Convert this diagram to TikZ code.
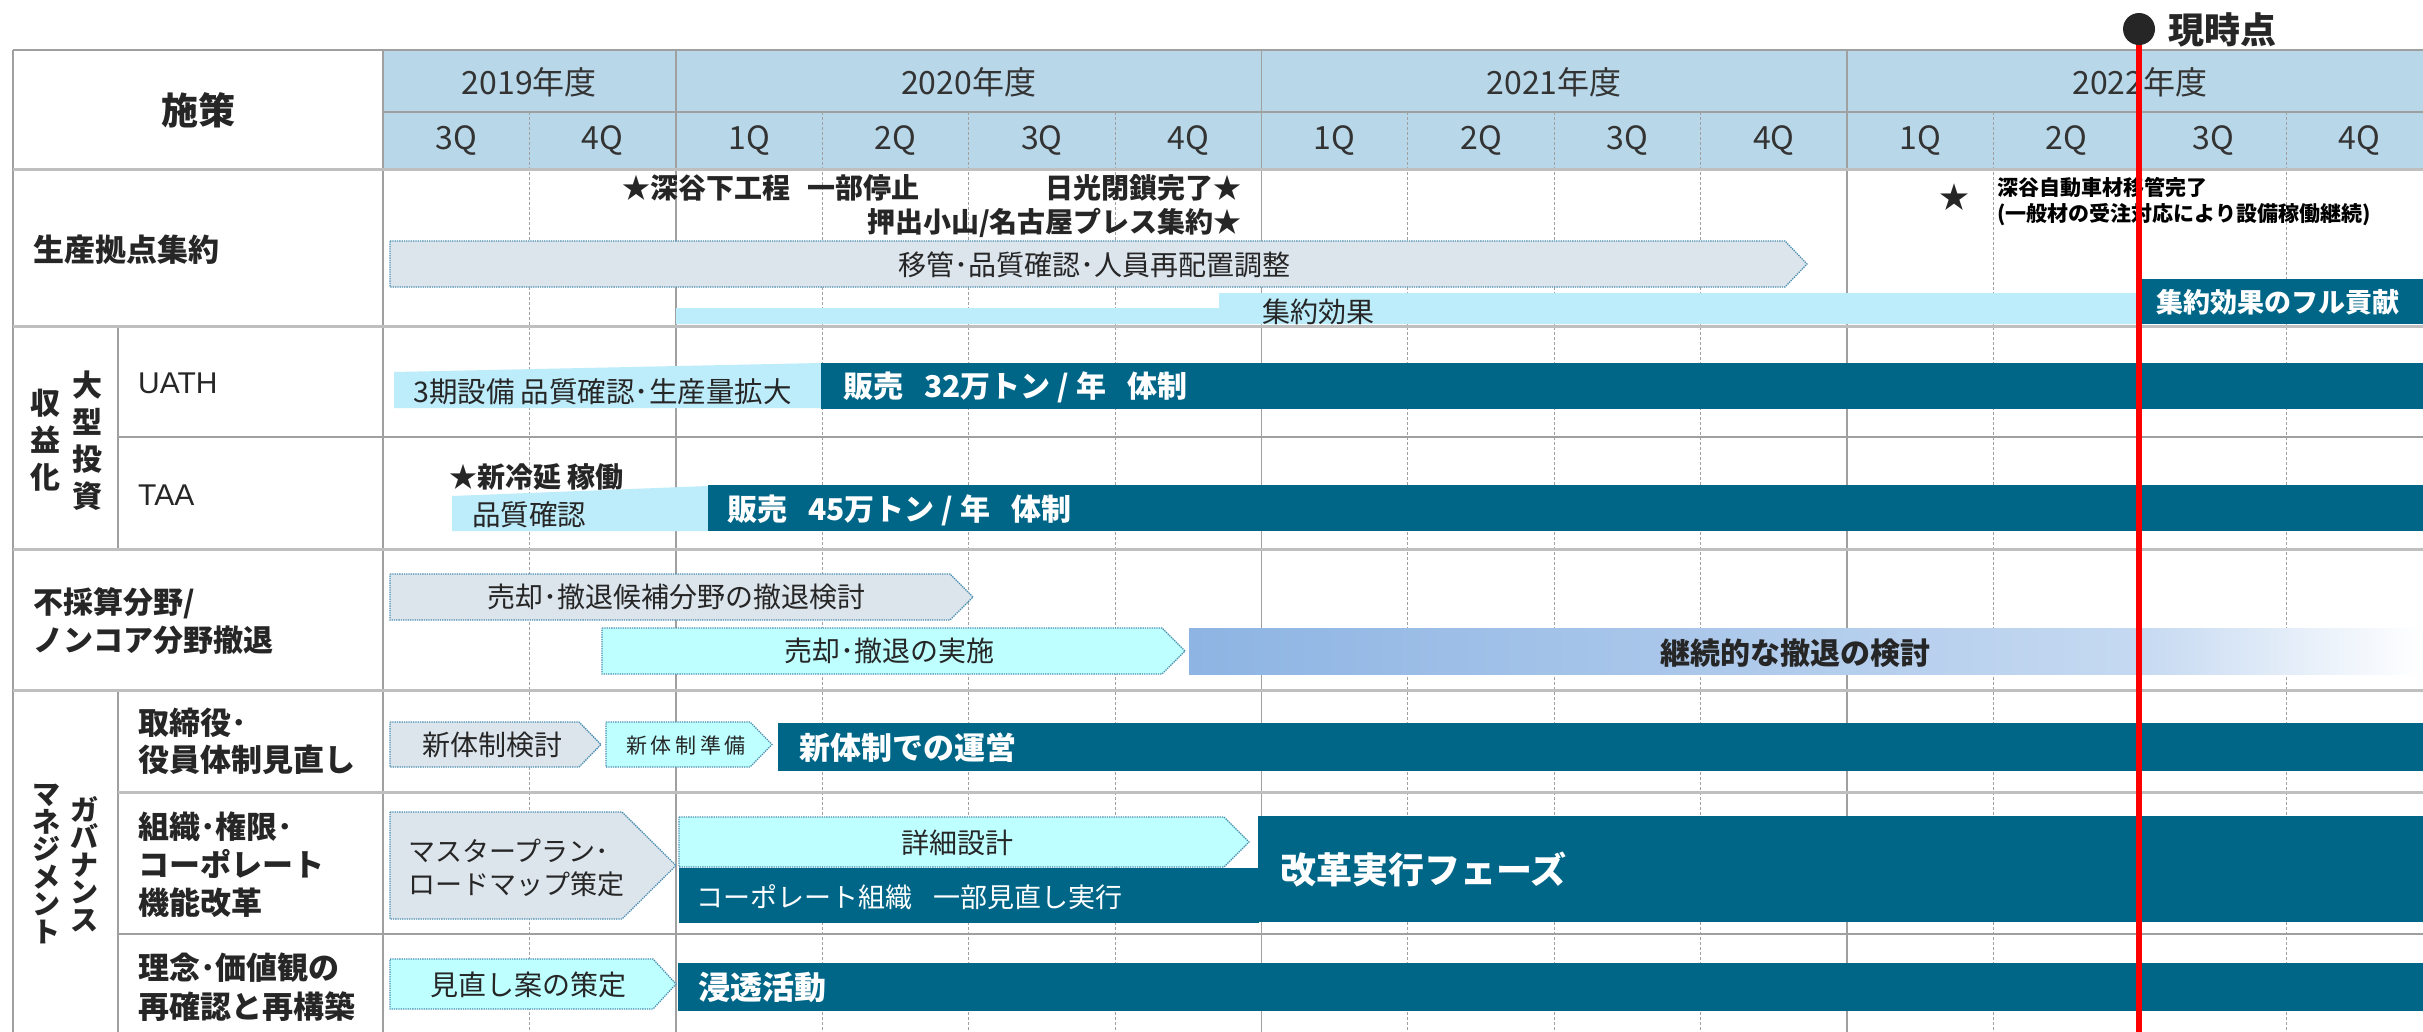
\documentclass[tikz,border=0pt]{standalone}
\usepackage{fontspec}
\setmainfont{Noto Sans CJK JP}
\newfontfamily\latinf{Liberation Sans}
\usetikzlibrary{calc}
\definecolor{hdr}{RGB}{184,215,232}
\definecolor{barteal}{RGB}{0,102,136}
\definecolor{lcyan}{RGB}{189,236,251}
\definecolor{acyan}{RGB}{190,255,255}
\definecolor{agray}{RGB}{220,228,236}
\definecolor{abord}{RGB}{70,140,175}
\definecolor{gline}{RGB}{160,160,160}
\definecolor{gthick}{RGB}{191,191,191}
\definecolor{txt}{RGB}{38,38,38}
\definecolor{hdtxt}{RGB}{51,51,51}
\definecolor{gradA}{RGB}{141,180,227}
\definecolor{gradB}{RGB}{197,217,241}
\newcommand\fsz[2]{\fontsize{#1}{#2}\selectfont}
\newcommand\myarrow[6]{\path[#1] (#2,#5) -- (#3,#5) -- (#4,{(#5+#6)/2}) -- (#3,#6) -- (#2,#6) -- cycle;}
\tikzset{
  lbl/.style={inner sep=0pt, text=txt, font=\fsz{30}{37}\bfseries, align=left},
  hd/.style={inner sep=0pt, text=hdtxt, font=\fsz{32}{38}},
  intxt/.style={inner sep=0pt, text=txt, font=\fsz{28}{34}, align=left},
  btxt/.style={inner sep=0pt, text=txt, font=\fsz{28}{34}\bfseries},
  wb/.style={inner sep=0pt, text=white, font=\fsz{30}{36}\bfseries},
  grayarr/.style={fill=agray, draw=abord, densely dotted, line width=1.3pt},
  cyanarr/.style={fill=acyan, draw=abord, densely dotted, line width=1.3pt},
  darkbar/.style={fill=barteal},
  lbar/.style={fill=lcyan},
  thinline/.style={draw=gline, line width=1.5pt},
  thickline/.style={draw=gthick, line width=3pt},
  qline/.style={draw=gline, line width=1pt, dash pattern=on 3pt off 2pt},
  redline/.style={draw=red, line width=6pt}
}
\begin{document}
\begin{tikzpicture}[x=1pt,y=-1pt]
\useasboundingbox (0,0) rectangle (2423,1031);
\clip (0,0) rectangle (2423,1031);
\fill[white] (0,0) rectangle (2423,1031);
% ---------- grid ----------
\fill[hdr] (383,50) rectangle (2440,169);
\draw[thinline] (13,50) -- (13,1040);
\draw[thinline] (383,50) -- (383,1040);
\foreach \k in {2,6,10} \draw[thinline] ({383+146.4*\k},50) -- ({383+146.4*\k},1040);
\foreach \k in {1,3,4,5,7,8,9,11,12,13} \draw[qline] ({383+146.4*\k},112) -- ({383+146.4*\k},1040);
\draw[thinline] (118,326) -- (118,549);
\draw[thinline] (118,690) -- (118,1040);
\draw[thinline] (13,50) -- (2440,50);
\draw[thinline] (383,112) -- (2440,112);
\foreach \y in {169,326,549,690} \draw[thickline] (13,\y) -- (2440,\y);
\draw[thickline] (118,792) -- (2440,792);
\draw[thinline] (118,437) -- (2440,437);
\draw[thinline] (118,934) -- (2440,934);
% ---------- header ----------
\node[inner sep=0pt, text=txt, font=\fsz{37}{44}\bfseries] (shisaku) at (198,110) {施策};
\node[hd] (y19) at (529.4,82) {2019年度};
\node[hd] (y20) at (968.6,82) {2020年度};
\node[hd] (y21) at (1554.2,82) {2021年度};
\node[hd] (y22) at (2139.8,82) {2022年度};
\foreach \lab [count=\i from 0] in {3Q,4Q,1Q,2Q,3Q,4Q,1Q,2Q,3Q,4Q,1Q,2Q,3Q,4Q}
  \node[hd] (q\i) at ({383+146.4*(\i+0.5)},141) {\lab};
% ---------- row 1 ----------
\node[lbl, anchor=west, font=\fsz{31}{37}\bfseries] (r1) at (33,250) {生産拠点集約};
\node[btxt, anchor=west] (fukaya) at (622,188) {★深谷下工程\hspace{0.6em}一部停止};
\node[btxt, anchor=east] (nikko) at (1242,188) {日光閉鎖完了★};
\node[btxt, anchor=east] (oshide) at (1242,223) {押出小山/名古屋プレス集約★};
\myarrow{grayarr}{390}{1785}{1807}{241}{287}
\node[intxt] (iken) at (1094,265) {移管･品質確認･人員再配置調整};
\path[lbar] (676,308) -- (1219,308) -- (1219,293) -- (2139,293) -- (2139,324) -- (676,324) -- cycle;
\node[intxt] (shuyaku) at (1318,312) {集約効果};
\fill[barteal] (2142,279) rectangle (2440,324);
\node[wb, anchor=west, font=\fsz{27}{33}\bfseries] (full) at (2156,302) {集約効果のフル貢献};
\node[inner sep=0pt, text=txt, font=\fsz{30}{36}] (star2) at (1954,197) {★};
\node[inner sep=0pt, text=black, font=\fsz{21}{26}\bfseries, anchor=west, align=left] (fukaya2) at (1997,202) {深谷自動車材移管完了\\(一般材の受注対応により設備稼働継続)};
% ---------- row 2 ----------
\node[lbl, font=\fsz{30}{37}\bfseries, align=center] (shueki) at (45,440) {収\\益\\化};
\node[lbl, font=\fsz{30}{37}\bfseries, align=center] (ogata) at (87,441) {大\\型\\投\\資};
\node[inner sep=0pt, text=txt, font=\latinf\fsz{30}{36}, anchor=west] (uath) at (138,383) {UATH};
\node[inner sep=0pt, text=txt, font=\latinf\fsz{30}{36}, anchor=west] (taa) at (138,495) {TAA};
\path[lbar] (394,372) -- (821,363) -- (821,408) -- (394,408) -- cycle;
\fill[barteal] (821,363) rectangle (2440,409);
\node[intxt, anchor=west, font=\fsz{28.5}{34}] (uathq) at (413,392) {3期設備 品質確認･生産量拡大};
\node[wb, anchor=west] (uaths) at (843,387) {販売\hspace{0.7em}32万トン / 年\hspace{0.7em}体制};
\node[btxt, anchor=west] (reien) at (449,477) {★新冷延 稼働};
\path[lbar] (452,496) -- (708,486) -- (708,531) -- (452,531) -- cycle;
\fill[barteal] (708,485) rectangle (2440,531);
\node[intxt, anchor=west, font=\fsz{28.5}{34}] (taaq) at (472,515) {品質確認};
\node[wb, anchor=west] (taas) at (727,510) {販売\hspace{0.7em}45万トン / 年\hspace{0.7em}体制};
% ---------- row 3 ----------
\node[lbl, anchor=west, font=\fsz{30}{38}\bfseries] (r3) at (33,621) {不採算分野/\\ノンコア分野撤退};
\myarrow{grayarr}{390}{950}{973}{574}{620}
\node[intxt] (baikyaku1) at (676,597) {売却･撤退候補分野の撤退検討};
\myarrow{cyanarr}{602}{1162}{1185}{628}{674}
\node[intxt] (baikyaku2) at (889,651) {売却･撤退の実施};
\shade[left color=gradA, right color=gradB] (1189,628) rectangle (2139,674);
\shade[left color=gradB, right color=white] (2139,628) rectangle (2423,674);
\node[btxt, anchor=west, font=\fsz{30}{36}\bfseries] (keizoku) at (1660,653) {継続的な撤退の検討};
% ---------- row 4 ----------
\node[lbl, font=\fsz{28}{27.6}\bfseries, align=center] (gov1) at (84,864) {ガ\\バ\\ナ\\ン\\ス};
\node[lbl, font=\fsz{28}{27.6}\bfseries, align=center] (gov2) at (46,864) {マ\\ネ\\ジ\\メ\\ン\\ト};
\node[lbl, anchor=west, font=\fsz{31}{37}\bfseries] (r4a) at (138,741) {取締役･\\役員体制見直し};
\node[lbl, anchor=west, font=\fsz{31}{38}\bfseries] (r4b) at (138,865) {組織･権限･\\コーポレート\\機能改革};
\node[lbl, anchor=west, font=\fsz{31}{39}\bfseries] (r4c) at (138,987) {理念･価値観の\\再確認と再構築};
\myarrow{grayarr}{390}{579}{601}{722}{767}
\node[intxt] (kento) at (492,745) {新体制検討};
\myarrow{cyanarr}{606}{750}{772}{722}{767}
\node[intxt, font=\fsz{21}{26}] (junbi) at (686,745) {新\,体\,制\,準\,備};
\fill[barteal] (778,723) rectangle (2440,771);
\node[wb, anchor=west, font=\fsz{31}{37}\bfseries] (unei) at (799,748) {新体制での運営};
\myarrow{grayarr}{390}{622}{676}{812}{919}
\node[intxt, font=\fsz{27}{33}, anchor=west] (master) at (408,868) {マスタープラン･\\ロードマップ策定};
\myarrow{cyanarr}{679}{1224}{1249}{817}{867}
\node[intxt] (shosai) at (957,843) {詳細設計};
\fill[barteal] (679,868) rectangle (1259,923);
\node[inner sep=0pt, text=white, font=\fsz{27}{33}, anchor=west] (corp) at (696,897) {コーポレート組織\hspace{0.8em}一部見直し実行};
\fill[barteal] (1258,816) rectangle (2440,922);
\node[wb, anchor=west, font=\fsz{36}{42}\bfseries] (kaikaku) at (1280,870) {改革実行フェーズ};
\myarrow{cyanarr}{390}{653}{676}{959}{1009}
\node[intxt] (minaoshi) at (528,985) {見直し案の策定};
\fill[barteal] (678,963) rectangle (2440,1011);
\node[wb, anchor=west, font=\fsz{32}{38}\bfseries] (shinto) at (698,987) {浸透活動};
% ---------- now line ----------
\coordinate (nowc) at (2139,29);
\coordinate (nowb) at (2139,1040);
\draw[redline] (nowc) -- (nowb);
\node[circle, fill=black!85, minimum size=32pt, inner sep=0pt] (nowdot) at (nowc) {};
\node[inner sep=0pt, text=black!85, font=\fsz{36}{42}\bfseries, anchor=west] (genji) at (2168,30) {現時点};
\end{tikzpicture}
\end{document}
